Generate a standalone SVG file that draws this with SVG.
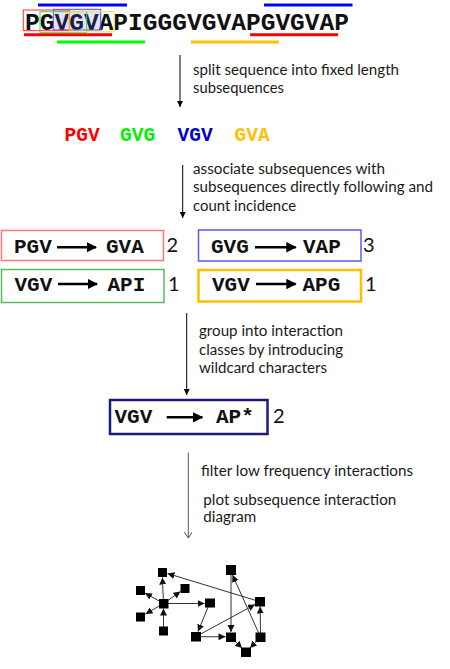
<svg xmlns="http://www.w3.org/2000/svg" width="450" height="669" viewBox="0 0 450 669">
<defs>
<marker id="ah" markerWidth="8" markerHeight="8" refX="6" refY="3" orient="auto" markerUnits="userSpaceOnUse"><path d="M0,0 L6,3 L0,6 Z" fill="#000"/></marker>
<marker id="gh" markerWidth="8" markerHeight="8" refX="6" refY="4" orient="auto" markerUnits="userSpaceOnUse"><path d="M0,0 L6,4 L0,8" fill="none" stroke="#555" stroke-width="1"/></marker>
<marker id="nh" markerWidth="8" markerHeight="8" refX="7" refY="3.5" orient="auto" markerUnits="userSpaceOnUse"><path d="M0,0 L7,3.5 L0,7 Z" fill="#111"/></marker>
<marker id="bh" markerWidth="12" markerHeight="12" refX="3.6" refY="2" orient="auto" markerUnits="strokeWidth"><path d="M0,0 L4,2 L0,4 Z" fill="#000"/></marker>
</defs>
<style>
.seq{font-family:"Liberation Mono",monospace;font-weight:bold;}
.cap{font-family:Lato,"Liberation Sans",sans-serif;font-size:15.5px;fill:#1a1a1a;}
.num{font-family:Lato,"Liberation Sans",sans-serif;font-size:20px;fill:#111;}
.bt{font-family:"Liberation Mono",monospace;font-weight:bold;font-size:21px;fill:#111;}
.flow{stroke:#000;stroke-width:1;fill:none;}
.barr{stroke:#000;stroke-width:2.6;fill:none;}
.edge{stroke:#333;stroke-width:1;fill:none;}
.node{fill:#000;}
</style>

<g id="sequence">
<text class="seq" x="25" y="30" font-size="24.5" fill="#111" textLength="324">PGVGVAPIGGGVGVAPGVGVAP</text>
<rect x="53.3" y="9.3" width="47.4" height="20.7" fill="#6464ff" fill-opacity="0.18" stroke="#4b4bff" stroke-width="1"/>
<rect x="23.3" y="10" width="46" height="20.7" fill="none" stroke="#ff3030" stroke-width="1"/>
<rect x="40" y="11.7" width="46.7" height="21" fill="none" stroke="#30e030" stroke-width="1"/>
<rect x="69" y="11.7" width="45" height="20" fill="none" stroke="#f2e640" stroke-width="1"/>
<line x1="38" y1="5" x2="127" y2="5" stroke="#0000ff" stroke-width="3"/>
<line x1="264" y1="5" x2="352.5" y2="5" stroke="#0000ff" stroke-width="3"/>
<line x1="24" y1="34.7" x2="112" y2="34.7" stroke="#ff0000" stroke-width="3"/>
<line x1="250" y1="34.7" x2="338" y2="34.7" stroke="#ff0000" stroke-width="3"/>
<line x1="57" y1="42" x2="145" y2="42" stroke="#00ff00" stroke-width="3"/>
<line x1="191" y1="42" x2="279" y2="42" stroke="#ffc000" stroke-width="3"/>
</g>

<g id="step1-text">
<text class="cap" x="193" y="75" textLength="206" lengthAdjust="spacingAndGlyphs">split sequence  into fixed length</text>
<text class="cap" x="193" y="93" textLength="91" lengthAdjust="spacingAndGlyphs">subsequences</text>
</g>

<g id="subsequences">
<text class="seq" x="64.5" y="141" font-size="19.5" fill="#ff0000">PGV</text>
<text class="seq" x="120" y="141" font-size="19.5" fill="#00f000">GVG</text>
<text class="seq" x="177.5" y="141" font-size="19.5" fill="#0000cc">VGV</text>
<text class="seq" x="234.5" y="141" font-size="19.5" fill="#ffc000">GVA</text>
</g>

<g id="step2-text">
<text class="cap" x="193" y="174" textLength="192" lengthAdjust="spacingAndGlyphs">associate subsequences  with</text>
<text class="cap" x="193" y="192.3" textLength="240" lengthAdjust="spacingAndGlyphs">subsequences  directly following and</text>
<text class="cap" x="193" y="210.7" textLength="103" lengthAdjust="spacingAndGlyphs">count incidence</text>
</g>

<g id="pair-pgv-gva">
<rect x="1.5" y="230.5" width="162" height="30" fill="none" stroke="#ff7777" stroke-width="1.5"/>
<text class="bt" x="14" y="252.5">PGV</text>
<line class="barr" x1="57" y1="247.3" x2="96" y2="247.3" marker-end="url(#bh)"/>
<text class="bt" x="106" y="252.5">GVA</text>
<text class="num" x="166.5" y="252">2</text>
</g>

<g id="pair-gvg-vap">
<rect x="198.5" y="230" width="162.5" height="31" fill="none" stroke="#5a5aff" stroke-width="1.5"/>
<text class="bt" x="211" y="252.5">GVG</text>
<line class="barr" x1="255" y1="247.3" x2="295.7" y2="247.3" marker-end="url(#bh)"/>
<text class="bt" x="303" y="252.5">VAP</text>
<text class="num" x="363" y="252">3</text>
</g>

<g id="pair-vgv-api">
<rect x="1.5" y="269.5" width="162.5" height="33" fill="none" stroke="#5cb85c" stroke-width="1.5"/>
<text class="bt" x="14.5" y="290.5">VGV</text>
<line class="barr" x1="58" y1="284" x2="97" y2="284" marker-end="url(#bh)"/>
<text class="bt" x="107.5" y="290.5">API</text>
<text class="num" x="168" y="290.5">1</text>
</g>

<g id="pair-vgv-apg">
<rect x="198.5" y="270" width="162.5" height="31.5" fill="none" stroke="#ffc000" stroke-width="2.5"/>
<text class="bt" x="212" y="290.5">VGV</text>
<line class="barr" x1="256" y1="284" x2="295.7" y2="284" marker-end="url(#bh)"/>
<text class="bt" x="302.5" y="290.5">APG</text>
<text class="num" x="365" y="290.5">1</text>
</g>

<g id="step3-text">
<text class="cap" x="199" y="336" textLength="144" lengthAdjust="spacingAndGlyphs">group into interaction</text>
<text class="cap" x="199" y="355" textLength="144" lengthAdjust="spacingAndGlyphs">classes by introducing</text>
<text class="cap" x="199" y="373.3" textLength="128" lengthAdjust="spacingAndGlyphs">wildcard characters</text>
</g>

<g id="class-vgv-ap">
<rect x="110" y="400" width="157.5" height="34" fill="none" stroke="#1c1c78" stroke-width="2.5"/>
<text class="bt" x="114.5" y="423">VGV</text>
<line class="barr" x1="166.7" y1="417.3" x2="202.3" y2="417.3" marker-end="url(#bh)"/>
<text class="bt" x="216" y="423">AP*</text>
<text class="num" x="273" y="423">2</text>
</g>

<g id="step4-text">
<text class="cap" x="201" y="476" textLength="212" lengthAdjust="spacingAndGlyphs">filter low frequency  interactions</text>
<text class="cap" x="203.3" y="505" textLength="193" lengthAdjust="spacingAndGlyphs">plot subsequence  interaction</text>
<text class="cap" x="203.3" y="521.7" textLength="53" lengthAdjust="spacingAndGlyphs">diagram</text>
</g>

<g id="flow-arrows">
<line class="flow" x1="180" y1="55" x2="180" y2="107" marker-end="url(#ah)"/>
<line class="flow" x1="182.7" y1="165" x2="182.7" y2="218" marker-end="url(#ah)"/>
<line class="flow" x1="186.7" y1="313" x2="186.7" y2="395" marker-end="url(#ah)"/>
<line x1="188.3" y1="452.7" x2="188.3" y2="538" stroke="#555" stroke-width="1" marker-end="url(#gh)"/>
</g>

<g id="graph-edges">
<line class="edge" x1="163.5" y1="603.5" x2="162.4" y2="577.5" marker-end="url(#nh)"/>
<line class="edge" x1="163.5" y1="603.5" x2="145" y2="593" marker-end="url(#nh)"/>
<line class="edge" x1="163.5" y1="603.5" x2="180.5" y2="591.5" marker-end="url(#nh)"/>
<line class="edge" x1="163.5" y1="603.5" x2="145.5" y2="614" marker-end="url(#nh)"/>
<line class="edge" x1="163.5" y1="630.7" x2="163.5" y2="608.5" marker-end="url(#nh)"/>
<line class="edge" x1="163.5" y1="603.5" x2="204.5" y2="603.5" marker-end="url(#nh)"/>
<line class="edge" x1="260" y1="601.7" x2="167.5" y2="573.5" marker-end="url(#nh)"/>
<line class="edge" x1="209.5" y1="603.5" x2="198" y2="631.5" marker-end="url(#nh)"/>
<line class="edge" x1="195.7" y1="636.7" x2="255" y2="604.5" marker-end="url(#nh)"/>
<line class="edge" x1="195.7" y1="636.7" x2="225.5" y2="636.8" marker-end="url(#nh)"/>
<line class="edge" x1="231" y1="570" x2="231" y2="632" marker-end="url(#nh)"/>
<line class="edge" x1="260.5" y1="637" x2="232.5" y2="575" marker-end="url(#nh)"/>
<line class="edge" x1="260.5" y1="637" x2="260.2" y2="606.5" marker-end="url(#nh)"/>
<line class="edge" x1="231" y1="637.3" x2="242" y2="648" marker-end="url(#nh)"/>
<line class="edge" x1="260.5" y1="637.3" x2="250" y2="648" marker-end="url(#nh)"/>
</g>

<g id="graph-nodes">
<rect id="n-a" class="node" x="158" y="568" width="9" height="9"/>
<rect id="n-b" class="node" x="136" y="586" width="9" height="9"/>
<rect id="n-c" class="node" x="180.5" y="584" width="9" height="9"/>
<rect id="n-d" class="node" x="159" y="599" width="9.5" height="9.5"/>
<rect id="n-e" class="node" x="136" y="612.5" width="9" height="9"/>
<rect id="n-f" class="node" x="159" y="626.5" width="9" height="9"/>
<rect id="n-g" class="node" x="205" y="598.5" width="10" height="9"/>
<rect id="n-h" class="node" x="191" y="632" width="10" height="9.5"/>
<rect id="n-i" class="node" x="226" y="565" width="10" height="10"/>
<rect id="n-j" class="node" x="255" y="597" width="10" height="9.5"/>
<rect id="n-k" class="node" x="226" y="632.5" width="10" height="9.5"/>
<rect id="n-l" class="node" x="255.5" y="632.5" width="10" height="9.5"/>
<rect id="n-m" class="node" x="241" y="647.5" width="10" height="9.5"/>
</g>
</svg>
